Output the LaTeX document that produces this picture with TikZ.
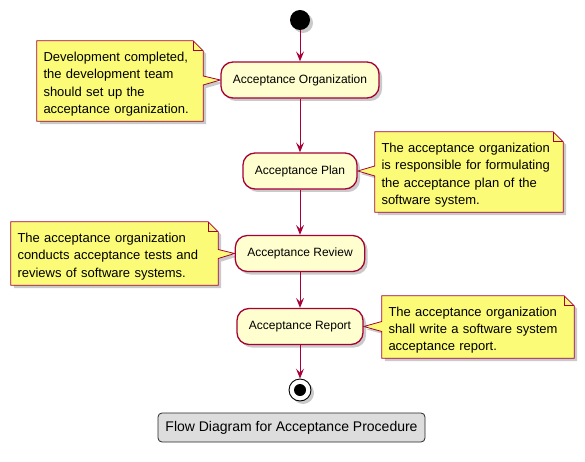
\documentclass[tikz,border=0pt]{standalone}
\usepackage{fontspec}
\setmainfont{Liberation Sans}
\usepackage{tikz}
\usetikzlibrary{shapes.geometric, arrows.meta, positioning, calc, shadows, backgrounds}
\definecolor{actfill}{HTML}{FEFECE}
\definecolor{umlred}{HTML}{A80036}
\definecolor{notefill}{HTML}{FBFB77}
\definecolor{capfill}{HTML}{DDDDDD}
\tikzstyle{umlshadow} = [drop shadow={shadow xshift=3pt, shadow yshift=-3pt, fill=black!60, opacity=0.35}]
\tikzstyle{activity} = [rectangle, rounded corners=12pt, minimum height=36pt, inner xsep=12pt, text centered, draw=umlred, line width=1.3pt, fill=actfill, umlshadow, font=\fontsize{12}{14}\selectfont]
\tikzstyle{note} = [rectangle, inner xsep=6.5pt, align=left, font=\fontsize{13}{17.4}\selectfont, execute at begin node=\rule{0pt}{15.5pt}]
\tikzstyle{noteline} = [draw=umlred, line width=0.8pt, fill=notefill, line join=miter]
\tikzstyle{arrow} = [draw=umlred, line width=1pt, -{Stealth[length=10pt,width=8pt,inset=4pt]}]

\begin{document}
\begin{tikzpicture}[x=1pt, y=1pt, node distance=60pt]
		\useasboundingbox (0,0) rectangle (585,-462);
		
		\node (start) [circle, fill=black, minimum size=20pt, inner sep=0pt, umlshadow] at (300,-20) {};
		
		\node (org) [activity, below of=start] {Acceptance Organization};
		
		\node (plan) [activity, below of=org, yshift=-31pt] {Acceptance Plan};
		
		\node (review) [activity, below of=plan, yshift=-22.5pt] {Acceptance Review};
		
		\node (report) [activity, below of=review, yshift=-13pt] {Acceptance Report};
		
		\node (end) [circle, draw=black, line width=0.9pt, fill=white, minimum size=22pt, inner sep=0pt, umlshadow, below of=report, yshift=-3.5pt] {};
		\node (endin) [circle, fill=black, minimum size=12pt, inner sep=0pt] at (end) {};
		
		\node (caption) [rectangle, rounded corners=4pt, draw=black!85, line width=0.8pt, fill=capfill, minimum width=267pt, minimum height=29pt, font=\fontsize{14}{16}\selectfont, below of=end, yshift=22.5pt, xshift=-8.5pt] {Flow Diagram for Acceptance Procedure};
		
		\node (noteorg) [note, left of=org, xshift=-120pt, yshift=-1pt, text width=153pt, minimum height=80pt] {Development completed,\\ the development team\\ should set up the\\ acceptance organization.};
		
		\node (noteplan) [note, right of=plan, xshift=109pt, yshift=-1pt, text width=175pt, minimum height=80pt] {The acceptance organization\\ is responsible for formulating\\ the acceptance plan of the\\ software system.};
		
		\node (notereview) [note, left of=review, xshift=-125.5pt, text width=194pt, minimum height=63pt] {The acceptance organization\\ conducts acceptance tests and\\ reviews of software systems.};
		
		\node (notereport) [note, right of=report, xshift=118pt, yshift=-0.5pt, text width=179pt, minimum height=62pt] {The acceptance organization\\ shall write a software system\\ acceptance report.};
		
		\begin{scope}[on background layer]
		\path[noteline, umlshadow] (noteorg.north west) -- ([xshift=-10pt]noteorg.north east) -- ([yshift=-10pt]noteorg.north east) -- ($(noteorg.east |- org.west)+(0,4)$) -- (org.west) -- ($(noteorg.east |- org.west)+(0,-5)$) -- (noteorg.south east) -- (noteorg.south west) -- cycle;
		\draw[umlred, line width=0.8pt] ([xshift=-10pt]noteorg.north east) |- ([yshift=-10pt]noteorg.north east);
		
		\path[noteline, umlshadow] (noteplan.north west) -- ([xshift=-10pt]noteplan.north east) -- ([yshift=-10pt]noteplan.north east) -- (noteplan.south east) -- (noteplan.south west) -- ($(noteplan.west |- plan.east)+(0,-5)$) -- (plan.east) -- ($(noteplan.west |- plan.east)+(0,5)$) -- cycle;
		\draw[umlred, line width=0.8pt] ([xshift=-10pt]noteplan.north east) |- ([yshift=-10pt]noteplan.north east);
		
		\path[noteline, umlshadow] (notereview.north west) -- ([xshift=-10pt]notereview.north east) -- ([yshift=-10pt]notereview.north east) -- ($(notereview.east |- review.west)+(0,4)$) -- (review.west) -- ($(notereview.east |- review.west)+(0,-5)$) -- (notereview.south east) -- (notereview.south west) -- cycle;
		\draw[umlred, line width=0.8pt] ([xshift=-10pt]notereview.north east) |- ([yshift=-10pt]notereview.north east);
		
		\path[noteline, umlshadow] (notereport.north west) -- ([xshift=-10pt]notereport.north east) -- ([yshift=-10pt]notereport.north east) -- (notereport.south east) -- (notereport.south west) -- ($(notereport.west |- report.east)+(0,-5)$) -- (report.east) -- ($(notereport.west |- report.east)+(0,5)$) -- cycle;
		\draw[umlred, line width=0.8pt] ([xshift=-10pt]notereport.north east) |- ([yshift=-10pt]notereport.north east);
		\end{scope}
		
		\draw [arrow] (start) -- (org);
		\draw [arrow] (org) -- (plan);
		\draw [arrow] (plan) -- (review);
		\draw [arrow] (review) -- (report);
		\draw [arrow] (report) -- (end);
		\end{tikzpicture}
\end{document}
